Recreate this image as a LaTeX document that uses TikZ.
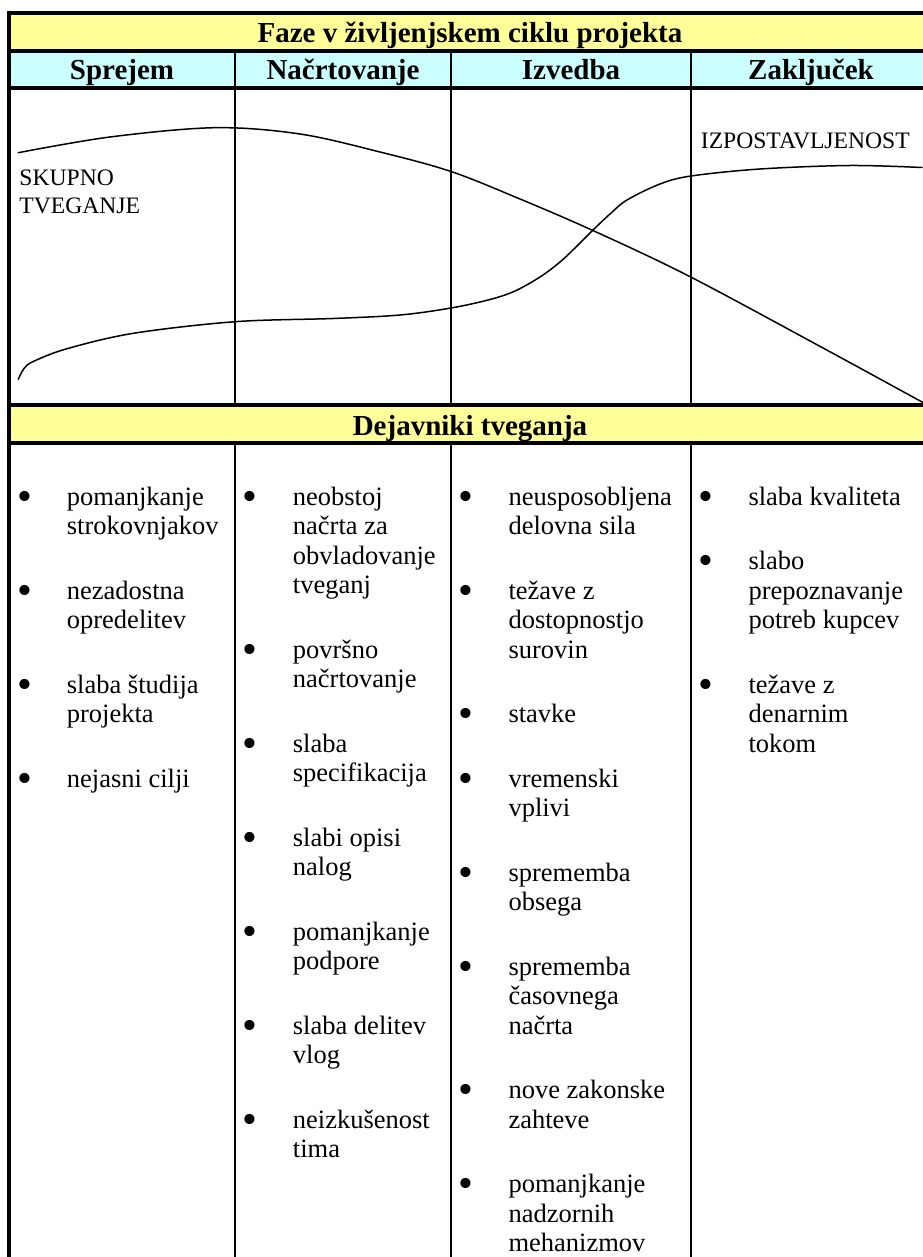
\documentclass[tikz,border=0pt]{standalone}
\usepackage{fontspec}
\setmainfont{Liberation Serif}
\definecolor{bandyellow}{HTML}{FFFF99}
\definecolor{bandcyan}{HTML}{CCFFFF}
\tikzset{
  thickrule/.style={line width=4pt},
  colrule/.style={line width=1.8pt},
  curveline/.style={line width=1.5pt, line join=round, line cap=round},
  headtext/.style={font=\bfseries\fontsize{29}{33}\selectfont, inner sep=0pt, anchor=base},
  itemtext/.style={inner sep=0pt, anchor=base west},
  bullettext/.style={inner sep=0pt, anchor=base, font=\fontsize{26.5}{29.5}\selectfont},
}
\newcommand{\riskitem}[5]{%
  \node[bullettext] (#1b) at (#2,#4) {\raisebox{-5pt}{\scalebox{1.6}{\textbullet}}};
  \node[itemtext] (#1) at (#3,#4) {\parbox[t]{180pt}{\raggedright\fontsize{26.5}{29.5}\selectfont #5}};
}
\begin{document}
\begin{tikzpicture}[x=1pt,y=-1pt]
\useasboundingbox (0,0) rectangle (922,1257);
% band fills
\fill[bandyellow] (11,15) rectangle (940,49.5);
\fill[bandcyan] (11,53) rectangle (940,86.5);
\fill[bandyellow] (11,407) rectangle (940,441);
% column rules
\foreach \cx in {235,451,691} {
  \draw[colrule] (\cx,51) -- (\cx,405);
  \draw[colrule] (\cx,443) -- (\cx,1260);
}
% thick horizontal rules
\foreach \ry in {13,51.3,88.3,405.3,442.8} {
  \draw[thickrule] (7.3,\ry) -- (940,\ry);
}
% left border
\draw[thickrule] (9.3,11) -- (9.3,1260);
% headings
\node[headtext] (title) at (470,42.5) {Faze v življenjskem ciklu projekta};
\node[headtext] (h1) at (122,79.5) {Sprejem};
\node[headtext] (h2) at (343,79.5) {Načrtovanje};
\node[headtext] (h3) at (571,79.5) {Izvedba};
\node[headtext] (h4) at (811,79.5) {Zaključek};
\node[headtext] (factors) at (470,435) {Dejavniki tveganja};
% curves
\draw[curveline] plot[smooth, tension=0.55] coordinates {
  (18.3,152.7) (110,137) (215,127.7) (300,134) (380,152) (451,171.5)
  (520,199) (594,231) (690.7,277) (826.7,350) (922,402) (930,406.5)};
\draw[curveline] plot[smooth, tension=0.55] coordinates {
  (18.3,379.3) (24,368.5) (33.3,361.5) (66.7,348.8) (133.3,333.3) (235,321.7)
  (333,318.5) (400,315) (451,308) (490,299.5) (515,291) (540,277) (560,262)
  (577,246) (593,230) (610,214) (627,200) (660,184) (691,176) (760,169)
  (850,165.5) (922,167.5)};
% curve labels
\node[itemtext] (risk) at (19.3,185.7) {\parbox[t]{150pt}{\fontsize{23.6}{27.6}\selectfont SKUPNO\\TVEGANJE}};
\node[itemtext] (exposure) at (700.7,149) {\fontsize{23.6}{27.6}\selectfont IZPOSTAVLJENOST};
% column 1
\riskitem{a1}{25}{66.7}{505}{pomanjkanje\\strokovnjakov}
\riskitem{a2}{25}{66.7}{599}{nezadostna\\opredelitev}
\riskitem{a3}{25}{66.7}{693}{slaba študija\\projekta}
\riskitem{a4}{25}{66.7}{787}{nejasni cilji}
% column 2
\riskitem{b1}{250}{292.7}{505}{neobstoj\\načrta za\\obvladovanje\\tveganj}
\riskitem{b2}{250}{292.7}{658}{površno\\načrtovanje}
\riskitem{b3}{250}{292.7}{752}{slaba\\specifikacija}
\riskitem{b4}{250}{292.7}{846}{slabi opisi\\nalog}
\riskitem{b5}{250}{292.7}{940}{pomanjkanje\\podpore}
\riskitem{b6}{250}{292.7}{1034}{slaba delitev\\vlog}
\riskitem{b7}{250}{292.7}{1128}{neizkušenost\\tima}
% column 3
\riskitem{c1}{466}{508.3}{505}{neusposobljena\\delovna sila}
\riskitem{c2}{466}{508.3}{599}{težave z\\dostopnostjo\\surovin}
\riskitem{c3}{466}{508.3}{722.5}{stavke}
\riskitem{c4}{466}{508.3}{787}{vremenski\\vplivi}
\riskitem{c5}{466}{508.3}{881}{sprememba\\obsega}
\riskitem{c6}{466}{508.3}{975}{sprememba\\časovnega\\načrta}
\riskitem{c7}{466}{508.3}{1098.5}{nove zakonske\\zahteve}
\riskitem{c8}{466}{508.3}{1192.5}{pomanjkanje\\nadzornih\\mehanizmov}
% column 4
\riskitem{d1}{705.7}{748.3}{505}{slaba kvaliteta}
\riskitem{d2}{705.7}{748.3}{569.5}{slabo\\prepoznavanje\\potreb kupcev}
\riskitem{d3}{705.7}{748.3}{693}{težave z\\denarnim\\tokom}
\end{tikzpicture}
\end{document}
